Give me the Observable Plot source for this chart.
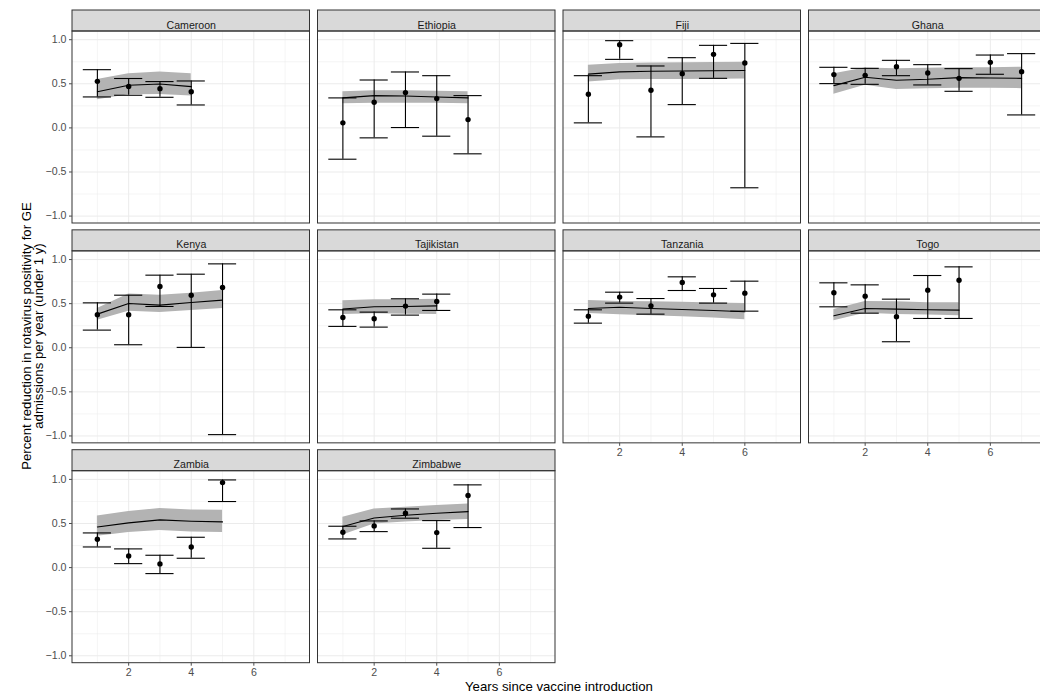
<!DOCTYPE html>
<html><head><meta charset="utf-8">
<script src="https://cdn.jsdelivr.net/npm/d3@7"></script>
<script src="https://cdn.jsdelivr.net/npm/@observablehq/plot@0.6"></script>
<style>
html,body{margin:0;padding:0;background:#fff;overflow:hidden;}
#chart{width:1040px;height:694px;overflow:hidden;position:relative;}
#chart svg{display:block;max-width:none !important;}
</style></head><body><div id="chart"></div>
<script>
const countries = ["Cameroon","Ethiopia","Fiji","Ghana","Kenya","Tajikistan","Tanzania","Togo","Zambia","Zimbabwe"];
const years = [
  [1,2,3,4],[1,2,3,4,5],[1,2,3,4,5,6],[1,2,3,4,5,6,7],[1,2,3,4,5],
  [1,2,3,4],[1,2,3,4,5,6],[1,2,3,4,5],[1,2,3,4,5],[1,2,3,4,5]
];
// observed reduction (points)
const observed = [
  [0.528,0.47,0.445,0.41],
  [0.057,0.29,0.40,0.332,0.094],
  [0.381,0.943,0.426,0.615,0.834,0.736],
  [0.604,0.596,0.694,0.623,0.562,0.743,0.638],
  [0.374,0.374,0.694,0.596,0.683],
  [0.343,0.328,0.472,0.525],
  [0.358,0.574,0.475,0.74,0.6,0.619],
  [0.623,0.585,0.351,0.653,0.766],
  [0.321,0.132,0.042,0.234,0.964],
  [0.401,0.473,0.616,0.397,0.817]
];
// observed lower bound (error bar)
const lower = [
  [0.351,0.37,0.347,0.26],
  [-0.355,-0.113,0.004,-0.094,-0.294],
  [0.057,0.777,-0.102,0.264,0.562,-0.679],
  [0.502,0.494,0.592,0.487,0.415,0.608,0.147],
  [0.2,0.034,0.468,0.004,-0.985],
  [0.242,0.234,0.37,0.423],
  [0.279,0.506,0.381,0.649,0.506,0.415],
  [0.464,0.392,0.068,0.332,0.332],
  [0.234,0.045,-0.068,0.106,0.749],
  [0.325,0.408,0.56,0.219,0.454]
];
// observed upper bound (error bar)
const upper = [
  [0.66,0.56,0.525,0.532],
  [0.34,0.543,0.634,0.592,0.366],
  [0.592,0.989,0.702,0.796,0.936,0.958],
  [0.687,0.675,0.766,0.717,0.672,0.826,0.842],
  [0.509,0.596,0.823,0.834,0.951],
  [0.43,0.404,0.555,0.608],
  [0.43,0.63,0.558,0.804,0.672,0.755],
  [0.736,0.713,0.551,0.819,0.917],
  [0.393,0.212,0.14,0.344,0.994],
  [0.469,0.529,0.665,0.533,0.938]
];
// model fit (line)
const fitted = [
  [0.41,0.483,0.498,0.468],
  [0.34,0.366,0.362,0.351,0.34],
  [0.61,0.635,0.642,0.645,0.648,0.65],
  [0.479,0.574,0.54,0.551,0.57,0.566,0.562],
  [0.381,0.502,0.483,0.513,0.54],
  [0.44,0.464,0.468,0.475],
  [0.445,0.46,0.445,0.434,0.423,0.408],
  [0.362,0.445,0.438,0.43,0.426],
  [0.461,0.507,0.541,0.526,0.518],
  [0.465,0.563,0.594,0.616,0.635]
];
// model interval (ribbon)
const fitLow = [
  [0.32,0.377,0.38,0.362],
  [0.275,0.28,0.28,0.28,0.275],
  [0.52,0.545,0.548,0.55,0.552,0.553],
  [0.381,0.483,0.434,0.445,0.449,0.449,0.445],
  [0.313,0.415,0.40,0.423,0.445],
  [0.377,0.385,0.381,0.377],
  [0.389,0.374,0.362,0.351,0.336,0.317],
  [0.306,0.392,0.377,0.37,0.362],
  [0.355,0.397,0.42,0.405,0.397],
  [0.37,0.495,0.518,0.533,0.544]
];
const fitHigh = [
  [0.55,0.615,0.634,0.615],
  [0.41,0.42,0.42,0.415,0.41],
  [0.71,0.73,0.735,0.74,0.742,0.745],
  [0.615,0.679,0.672,0.675,0.683,0.683,0.687],
  [0.445,0.608,0.596,0.619,0.649],
  [0.532,0.543,0.543,0.551],
  [0.536,0.525,0.521,0.515,0.506,0.502],
  [0.434,0.525,0.521,0.509,0.509],
  [0.586,0.635,0.669,0.654,0.65],
  [0.571,0.665,0.684,0.703,0.722]
];
const xTicks = [2,4,6];
const xMinor = [1,3,5,7];
const yTicks = [-1,-0.5,0,0.5,1];
const yMinor = [-0.75,-0.25,0.25,0.75];
const xTitle = "Years since vaccine introduction";
const yTitle1 = "Percent reduction in rotavirus positivity for GE";
const yTitle2 = "admissions per year (under 1 y)";

const NCOL = 4;
const rows = [];
countries.forEach((c, i) => {
  years[i].forEach((yr, j) => {
    rows.push({country: c, col: i % NCOL, row: Math.floor(i / NCOL), year: yr,
      obs: observed[i][j], lo: lower[i][j], hi: upper[i][j],
      fit: fitted[i][j], rlo: fitLow[i][j], rhi: fitHigh[i][j]});
  });
});
const strips = countries.map((c, i) => ({country: c, col: i % NCOL, row: Math.floor(i / NCOL)}));

const capHalf = 0.45;
function expand(a, b) { const d = (b - a) * 0.05; return [a - d, b + d]; }
const xDom = expand(d3.min(rows, d => d.year) - capHalf, d3.max(rows, d => d.year) + capHalf);
const yDom = expand(d3.min(rows, d => Math.min(d.lo, d.rlo)), d3.max(rows, d => Math.max(d.hi, d.rhi)));

const panelH = 192, stripH = 21;
const stripU = stripH * (yDom[1] - yDom[0]) / panelH;
const F = {fx: "col", fy: "row"};
const grid = "#ebebeb";
const smallFont = 10.6, titleFont = 13.2;

const chart = Plot.plot({
  width: 1048, height: 694,
  marginLeft: 72, marginRight: 2, marginTop: 31, marginBottom: 31.3,
  style: {fontFamily: "'Liberation Sans', Arial, sans-serif", fontSize: smallFont + "px", background: "#fff", maxWidth: "none"},
  x: {domain: xDom, label: null},
  y: {domain: yDom, label: null},
  fx: {domain: [0,1,2,3], paddingInner: 0.0326, paddingOuter: 0, axis: null, round: false},
  fy: {domain: [0,1,2], paddingInner: 0.1267, paddingOuter: 0, axis: null, round: false},
  marks: [
    ...yMinor.map(v => Plot.ruleY(strips, {...F, y: () => v, stroke: grid, strokeWidth: 0.5})),
    ...xMinor.map(v => Plot.ruleX(strips, {...F, x: () => v, stroke: grid, strokeWidth: 0.5})),
    ...yTicks.map(v => Plot.ruleY(strips, {...F, y: () => v, stroke: grid, strokeWidth: 1})),
    ...xTicks.map(v => Plot.ruleX(strips, {...F, x: () => v, stroke: grid, strokeWidth: 1})),
    Plot.areaY(rows, {...F, x: "year", y1: "rlo", y2: "rhi", z: "country", fill: "#b3b3b3"}),
    Plot.line(rows, {...F, x: "year", y: "fit", z: "country", stroke: "#000", strokeWidth: 1.1}),
    Plot.ruleX(rows, {...F, x: "year", y1: "lo", y2: "hi", stroke: "#000", strokeWidth: 1.1}),
    Plot.ruleY(rows, {...F, y: "lo", x1: d => d.year - capHalf, x2: d => d.year + capHalf, stroke: "#000", strokeWidth: 1.1}),
    Plot.ruleY(rows, {...F, y: "hi", x1: d => d.year - capHalf, x2: d => d.year + capHalf, stroke: "#000", strokeWidth: 1.1}),
    Plot.dot(rows, {...F, x: "year", y: "obs", r: 2.7, fill: "#000"}),
    Plot.rect(strips, {...F, x1: () => xDom[0], x2: () => xDom[1], y1: () => yDom[1], y2: () => yDom[1] + stripU, fill: "#d9d9d9", stroke: "#333", strokeWidth: 1}),
    Plot.text(strips, {...F, text: "country", frameAnchor: "top", dy: -stripH / 2, fontSize: smallFont, fill: "#1a1a1a"}),
    Plot.rect(strips, {...F, x1: () => xDom[0], x2: () => xDom[1], y1: () => yDom[0], y2: () => yDom[1], fill: "none", stroke: "#333", strokeWidth: 1}),
    Plot.axisX({ticks: xTicks, tickSize: 3, tickPadding: 2, color: "#4d4d4d", fontSize: smallFont, label: null, facetAnchor: "bottom-empty"}),
    Plot.axisY({ticks: yTicks, tickFormat: ".1f", tickSize: 3, tickPadding: 3, color: "#4d4d4d", fontSize: smallFont, label: null, facetAnchor: "left"})
  ]
});

const svg = d3.select(chart);
svg.style("max-width", "none");
svg.append("text").attr("x", 559).attr("y", 691).attr("text-anchor", "middle")
  .attr("font-size", titleFont).attr("fill", "#000").text(xTitle);
svg.append("text").attr("transform", "translate(30.5,336) rotate(-90)").attr("text-anchor", "middle")
  .attr("font-size", titleFont).attr("fill", "#000").text(yTitle1);
svg.append("text").attr("transform", "translate(43,336) rotate(-90)").attr("text-anchor", "middle")
  .attr("font-size", titleFont).attr("fill", "#000").text(yTitle2);
document.getElementById("chart").appendChild(chart);
</script>
</body></html>
